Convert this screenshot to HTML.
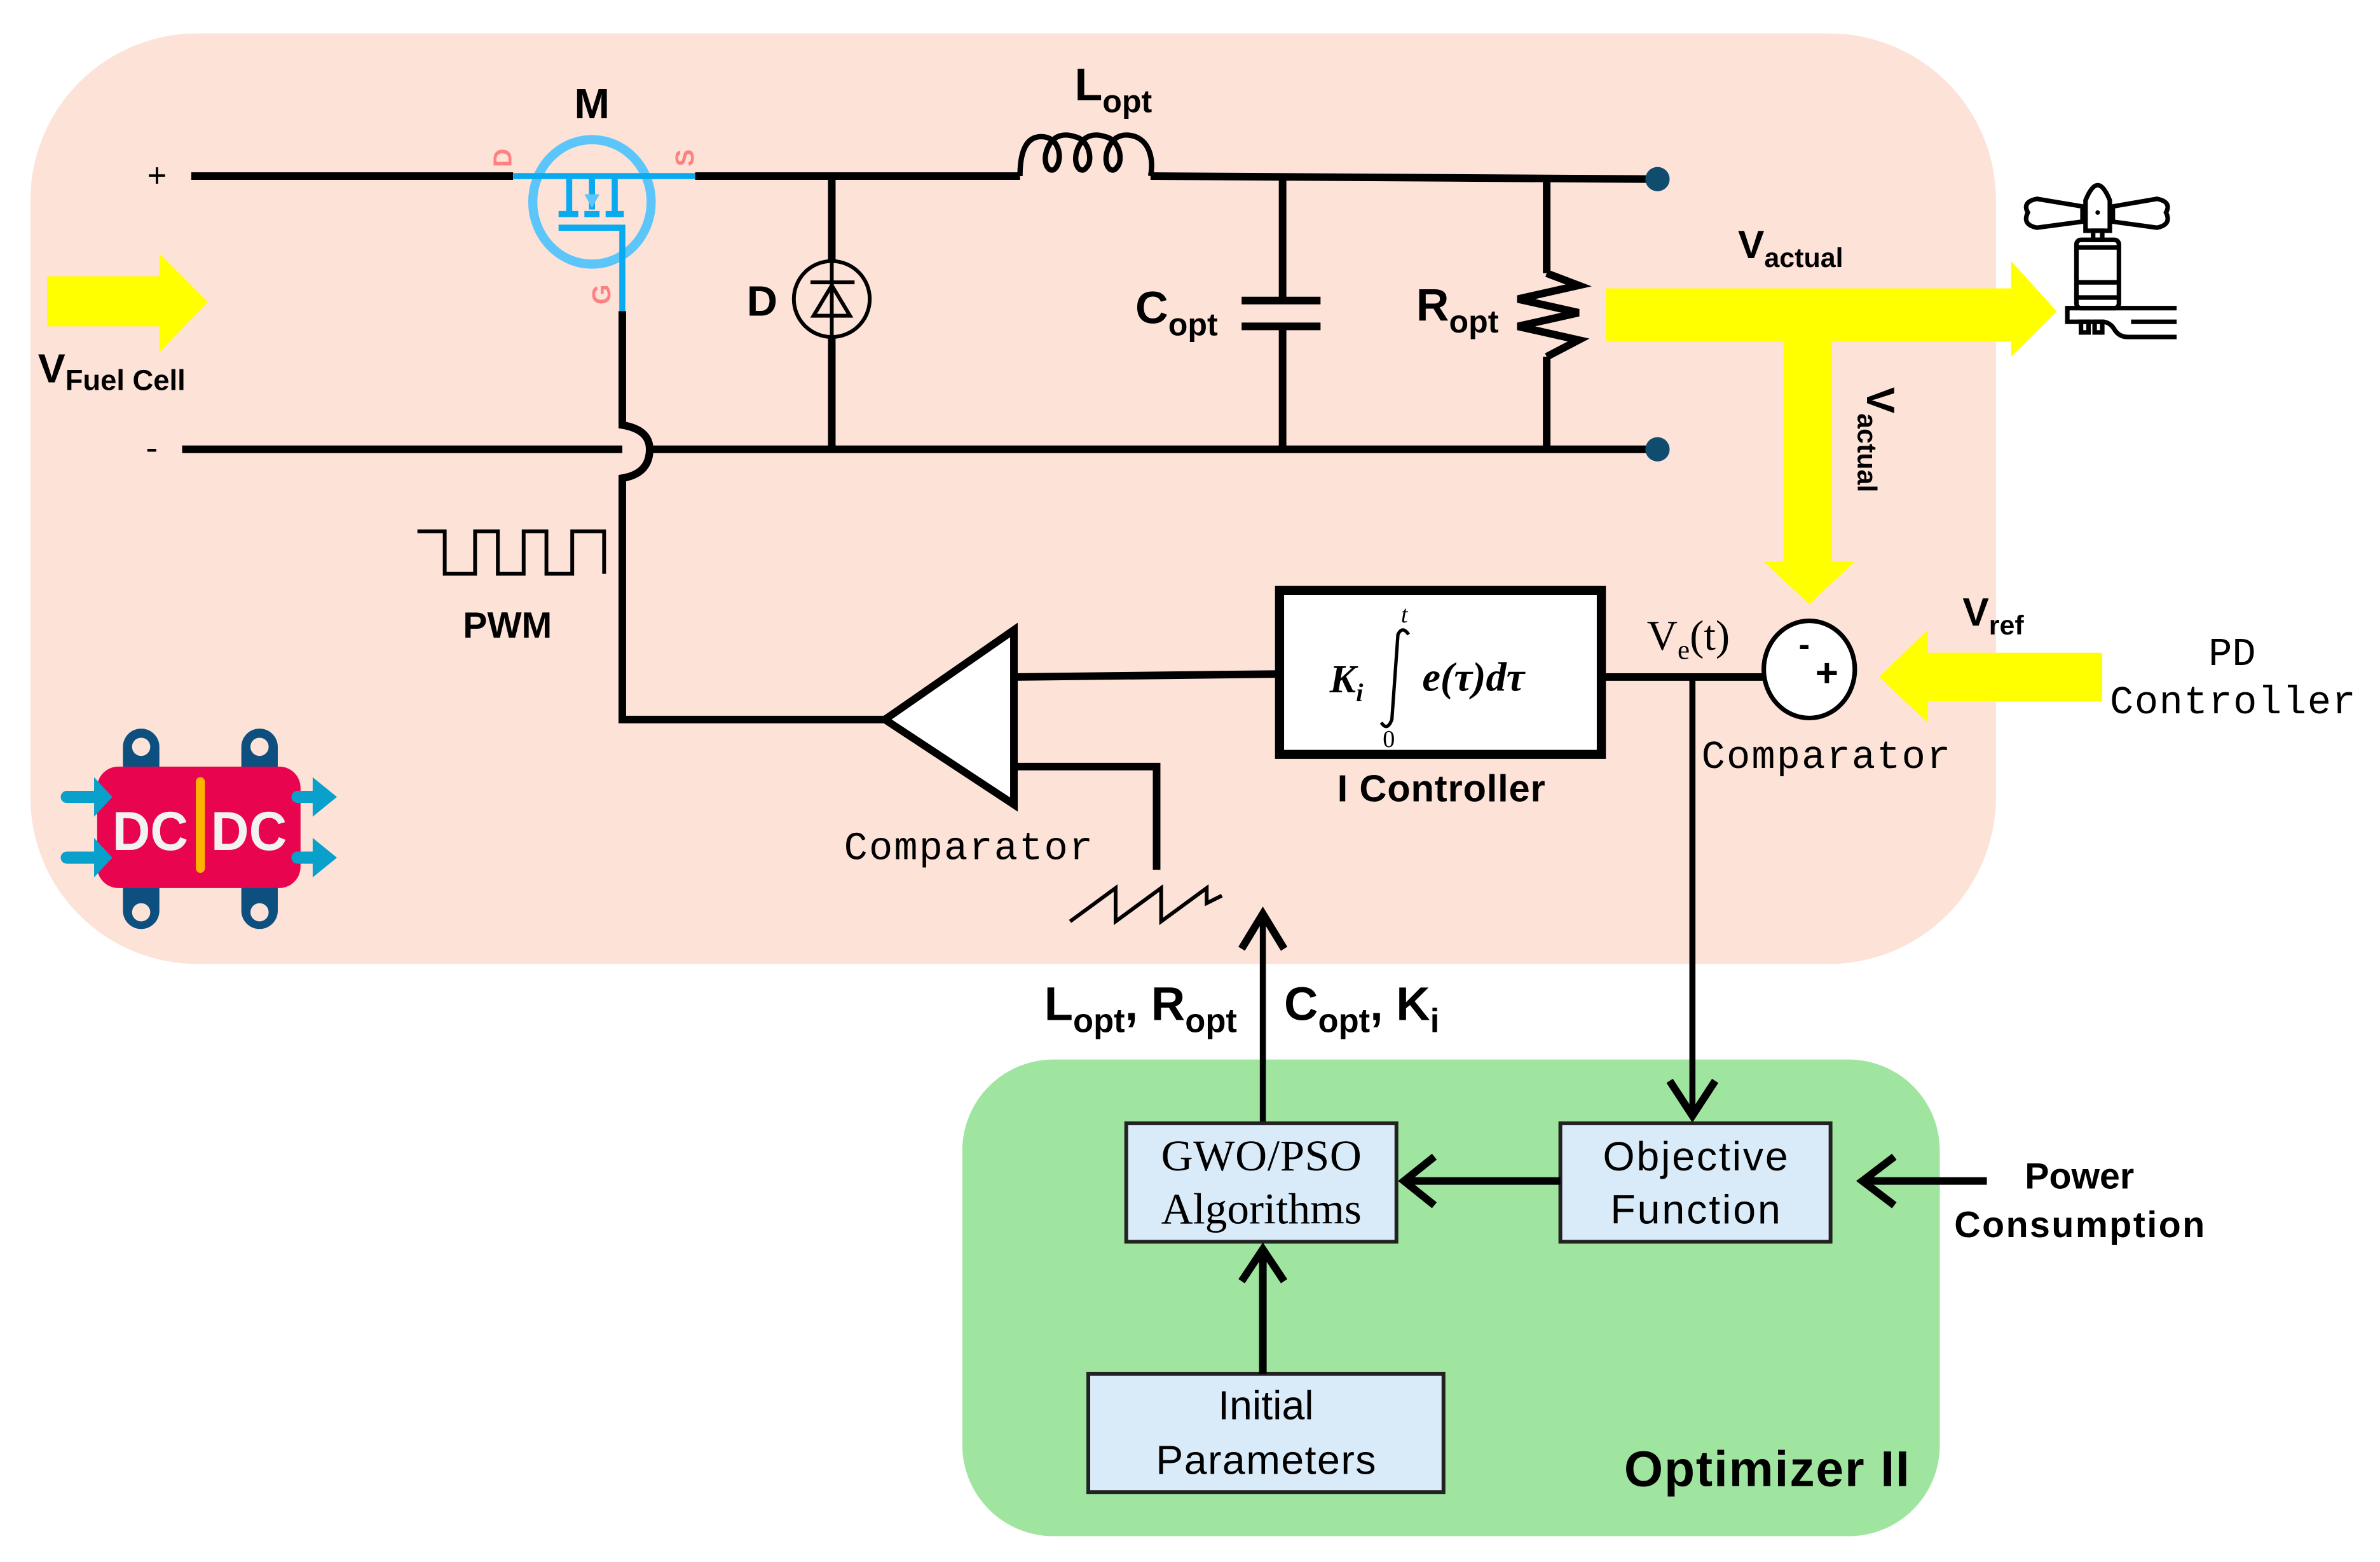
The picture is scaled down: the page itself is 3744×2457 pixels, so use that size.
<!DOCTYPE html>
<html><head><meta charset="utf-8"><style>
html,body{margin:0;padding:0;background:#fff;}
svg{display:block;}
.b{font-family:"Liberation Sans",sans-serif;font-weight:bold;}
.m{font-family:"Liberation Mono",monospace;}
.s{font-family:"Liberation Serif",serif;}
</style></head><body>
<svg width="3744" height="2457" viewBox="0 0 1568 1029" xmlns="http://www.w3.org/2000/svg">
<rect x="0" y="0" width="1568" height="1029" fill="#fff"/>
<rect x="20" y="22" width="1295" height="613" rx="110" fill="#fde2d7"/>
<rect x="634" y="698" width="644" height="314" rx="60" fill="#9fe59f"/>

<g stroke="#000" stroke-width="5" fill="none">
  <line x1="126" y1="116" x2="338" y2="116"/>
  <line x1="458" y1="116" x2="672" y2="116"/>
  <line x1="758" y1="116" x2="1092" y2="118"/>
  <line x1="120" y1="296" x2="410" y2="296"/>
  <line x1="428" y1="296" x2="1092" y2="296"/>
  <path d="M410 205 L410 280 Q428 283 428 296 Q428 312 410 315 L410 474 L583 474"/>
  <line x1="548" y1="116" x2="548" y2="173"/>
  <line x1="548" y1="221" x2="548" y2="296"/>
  <line x1="845" y1="116" x2="845" y2="198"/>
  <line x1="845" y1="215" x2="845" y2="296"/>
  <line x1="818" y1="198" x2="870" y2="198"/>
  <line x1="818" y1="215" x2="870" y2="215"/>
  <line x1="1019" y1="116" x2="1019" y2="180"/>
  <path d="M1019 180 L1040 188 L1000 197 L1040 206 L1000 215 L1040 224 L1019 235"/>
  <line x1="1019" y1="235" x2="1019" y2="296"/>
  <rect x="843" y="389" width="212" height="108" fill="#fff" stroke-width="6"/>
  <line x1="668" y1="446" x2="843" y2="444"/>
  <line x1="1055" y1="446" x2="1162" y2="446"/>
  <polygon points="668,415 668,530 583,474" fill="#fff"/>
  <path d="M668 505 L762 505 L762 573"/>
  <path d="M705 607 L735 585 L735 607 L765 585 L765 607 L795 585 L795 595 L805 590" stroke-width="2.5"/>
  <path d="M275 350 L293 350 L293 378 L313 378 L313 350 L328 350 L328 378 L345 378 L345 350 L360 350 L360 378 L377 378 L377 350 L398 350 L398 378" stroke-width="2.5"/>
</g>
<g stroke="#000" stroke-width="3.5" fill="none">
  <path d="M672 116 C672 100 676 90 686 90 C698 90 700 104 696 110 C692 116 686 108 690 98 C694 88 702 88 708 90 C718 92 720 106 716 110 C712 116 706 108 710 98 C714 88 722 88 728 90 C738 92 740 106 736 110 C732 116 726 108 730 98 C734 88 742 88 748 90 C758 94 760 106 758 116"/>
</g>
<line x1="1115" y1="446" x2="1115" y2="732" stroke="#000" stroke-width="4"/>
<path d="M1100 712 L1115 735 L1130 712" stroke="#000" stroke-width="5" fill="none"/>
<line x1="832" y1="740" x2="832" y2="603" stroke="#000" stroke-width="4"/>
<path d="M818 625 L832 602 L846 625" stroke="#000" stroke-width="5" fill="none"/>

<circle cx="1092" cy="118" r="8" fill="#0f4c6e"/>
<circle cx="1092" cy="296" r="8" fill="#0f4c6e"/>

<g stroke="#0aaaf0" stroke-width="4" fill="none">
  <ellipse cx="390" cy="133" rx="39" ry="41" stroke="#5cc5fa" stroke-width="6"/>
  <line x1="338" y1="116" x2="458" y2="116"/>
  <path d="M375 116 L375 141"/><path d="M390 116 L390 138"/><path d="M405 116 L405 141"/>
  <line x1="368" y1="141" x2="381" y2="141"/><line x1="385" y1="141" x2="395" y2="141"/><line x1="399" y1="141" x2="411" y2="141"/>
  <path d="M368 150 L410 150 L410 205"/>
</g>
<polygon points="385,128 395,128 390,137" fill="#5cc5fa"/>
<text x="331" y="110" fill="#ff8080" class="b" font-size="17" transform="rotate(-90 331 104)" text-anchor="middle">D</text>
<text x="451" y="110" fill="#ff8080" class="b" font-size="17" transform="rotate(-90 451 104)" text-anchor="middle">S</text>
<text x="396" y="200" fill="#ff8080" class="b" font-size="17" transform="rotate(-90 396 194)" text-anchor="middle">G</text>

<g stroke="#000" stroke-width="2.5" fill="none">
  <ellipse cx="548" cy="197" rx="25" ry="25"/>
  <line x1="534" y1="186" x2="563" y2="186"/>
  <polygon points="548,188 536,208 560,208"/>
  <line x1="548" y1="172" x2="548" y2="222"/>
</g>

<text x="390" y="78" class="b" font-size="28" text-anchor="middle">M</text>
<text x="708" y="66" class="b" font-size="30">L<tspan font-size="21" dy="8">opt</tspan></text>
<text x="492" y="208" class="b" font-size="28">D</text>
<text x="748" y="213" class="b" font-size="30">C<tspan font-size="21" dy="8">opt</tspan></text>
<text x="933" y="211" class="b" font-size="30">R<tspan font-size="21" dy="8">opt</tspan></text>
<text x="97" y="123" font-family="Liberation Sans,sans-serif" font-size="22">+</text>
<text x="96" y="303" font-family="Liberation Sans,sans-serif" font-size="24">-</text>
<text x="25" y="252" class="b" font-size="27">V<tspan font-size="19" dy="5">Fuel Cell</tspan></text>
<text x="305" y="420" class="b" font-size="24">PWM</text>
<text x="556" y="566" class="m" font-size="26" textLength="164">Comparator</text>
<text x="1121" y="506" class="m" font-size="26" textLength="164">Comparator</text>
<text x="1455" y="438" class="m" font-size="26">PD</text>
<text x="1390" y="470" class="m" font-size="26" textLength="162">Controller</text>
<text x="881" y="528" class="b" font-size="25" textLength="137">I Controller</text>
<text x="1085" y="428" class="s" font-size="28">V<tspan font-size="18" dy="6">e</tspan><tspan dy="-6">(t)</tspan></text>

<text x="876" y="456" class="s" font-size="26" font-style="italic" font-weight="bold">K<tspan font-size="17" dy="6">i</tspan></text>
<path d="M928 418 Q924 412 921 418 L917 474 Q914 482 910 476" stroke="#000" stroke-width="2.2" fill="none"/>
<text x="923" y="410" class="s" font-size="16" font-style="italic">t</text>
<text x="911" y="492" class="s" font-size="16">0</text>
<text x="937" y="455" class="s" font-size="27" font-style="italic" font-weight="bold">e(τ)dτ</text>

<ellipse cx="1192" cy="441" rx="30" ry="32" fill="#fff" stroke="#000" stroke-width="3"/>
<text x="1185" y="432" class="b" font-size="22">-</text>
<text x="1196" y="452" class="b" font-size="26">+</text>

<polygon points="31,182 105,182 105,167 137,199 105,232 105,215 31,215" fill="#ffff00"/>
<polygon points="1058,190 1325,190 1325,172 1355,205 1325,235 1325,225 1207,225 1207,370 1222,370 1192,398 1162,370 1175,370 1175,225 1058,225" fill="#ffff00"/>
<polygon points="1385,430 1270,430 1270,415 1238,446 1270,476 1270,462 1385,462" fill="#ffff00"/>
<text x="1145" y="170" class="b" font-size="26">V<tspan font-size="18" dy="6">actual</tspan></text>
<text transform="translate(1230,255) rotate(90)" class="b" font-size="26">V<tspan font-size="18" dy="6">actual</tspan></text>
<text x="1293" y="412" class="b" font-size="26">V<tspan font-size="18" dy="6">ref</tspan></text>

<g>
  <rect x="81" y="480" width="24" height="50" rx="12" fill="#0d4f7e"/>
  <rect x="159" y="480" width="24" height="50" rx="12" fill="#0d4f7e"/>
  <rect x="81" y="560" width="24" height="52" rx="12" fill="#0d4f7e"/>
  <rect x="159" y="560" width="24" height="52" rx="12" fill="#0d4f7e"/>
  <circle cx="93" cy="492" r="6" fill="#fde2d7"/><circle cx="171" cy="492" r="6" fill="#fde2d7"/>
  <circle cx="93" cy="601" r="6" fill="#fde2d7"/><circle cx="171" cy="601" r="6" fill="#fde2d7"/>
  <rect x="64" y="505" width="134" height="80" rx="14" fill="#e8044e"/>
  <rect x="129" y="512" width="6" height="63" rx="3" fill="#ffb300"/>
  <g fill="#0aa0cc">
    <rect x="40" y="521" width="30" height="8" rx="4"/><polygon points="62,512 74,525 62,538"/>
    <rect x="40" y="561" width="30" height="8" rx="4"/><polygon points="62,552 74,565 62,578"/>
    <rect x="192" y="521" width="20" height="8" rx="4"/><polygon points="206,512 222,525 206,538"/>
    <rect x="192" y="561" width="20" height="8" rx="4"/><polygon points="206,552 222,565 206,578"/>
  </g>
  <text x="99" y="560" class="b" font-size="36" fill="#f2f2f2" text-anchor="middle" textLength="50" lengthAdjust="spacingAndGlyphs">DC</text>
  <text x="164" y="560" class="b" font-size="36" fill="#f2f2f2" text-anchor="middle" textLength="50" lengthAdjust="spacingAndGlyphs">DC</text>
</g>

<g stroke="#000" stroke-width="3" fill="none">
  <path d="M1336 140 Q1332 133 1342 131 L1372 136 L1372 146 L1342 150 Q1332 148 1336 140Z"/>
  <path d="M1427 140 Q1431 133 1421 131 L1392 136 L1392 146 L1421 150 Q1431 148 1427 140Z"/>
  <path d="M1374 152 L1374 132 Q1382 112 1390 132 L1390 152 Z"/>
  <rect x="1379" y="152" width="6" height="6"/>
  <rect x="1368" y="158" width="28" height="45" rx="3"/>
  <line x1="1368" y1="163" x2="1396" y2="163"/>
  <line x1="1368" y1="186" x2="1396" y2="186"/>
  <line x1="1368" y1="196" x2="1396" y2="196"/>
  <path d="M1434 203 L1362 203 L1362 212 L1385 212 Q1390 212 1393 217 Q1396 222 1402 222 L1434 222"/>
  <line x1="1404" y1="212" x2="1434" y2="212"/>
  <rect x="1371" y="212" width="5" height="7"/><rect x="1380" y="212" width="5" height="7"/>
</g>
<circle cx="1382" cy="140" r="1.5" fill="#000"/>

<g stroke="#222" stroke-width="2.5" fill="#d9ebf8">
  <rect x="742" y="740" width="178" height="78"/>
  <rect x="1028" y="740" width="178" height="78"/>
  <rect x="717" y="905" width="234" height="78"/>
</g>
<text x="831" y="771" class="s" font-size="29" text-anchor="middle" textLength="132">GWO/PSO</text>
<text x="831" y="806" class="s" font-size="29" text-anchor="middle" textLength="132">Algorithms</text>
<text x="1117" y="771" font-family="Liberation Sans,sans-serif" font-size="27" text-anchor="middle" textLength="122">Objective</text>
<text x="1117" y="806" font-family="Liberation Sans,sans-serif" font-size="27" text-anchor="middle" textLength="112">Function</text>
<text x="834" y="935" font-family="Liberation Sans,sans-serif" font-size="27" text-anchor="middle">Initial</text>
<text x="834" y="971" font-family="Liberation Sans,sans-serif" font-size="27" text-anchor="middle" textLength="145">Parameters</text>

<g stroke="#000" stroke-width="5" fill="none">
  <line x1="1028" y1="778" x2="926" y2="778"/>
  <path d="M945 762 L925 778 L945 794"/>
  <line x1="832" y1="905" x2="832" y2="824"/>
  <path d="M818 844 L832 823 L846 844"/>
  <line x1="1309" y1="778" x2="1228" y2="778"/>
  <path d="M1248 762 L1227 778 L1248 794"/>
</g>
<text x="688" y="672" class="b" font-size="31">L<tspan font-size="22" dy="8">opt</tspan><tspan dy="-8">, R</tspan><tspan font-size="22" dy="8">opt</tspan></text>
<text x="846" y="672" class="b" font-size="31">C<tspan font-size="22" dy="8">opt</tspan><tspan dy="-8">, K</tspan><tspan font-size="22" dy="8">i</tspan></text>
<text x="1370" y="783" class="b" font-size="24" text-anchor="middle">Power</text>
<text x="1370" y="815" class="b" font-size="24" text-anchor="middle" textLength="165">Consumption</text>
<text x="1258" y="979" class="b" font-size="33" text-anchor="end" textLength="188">Optimizer II</text>
</svg>
</body></html>
